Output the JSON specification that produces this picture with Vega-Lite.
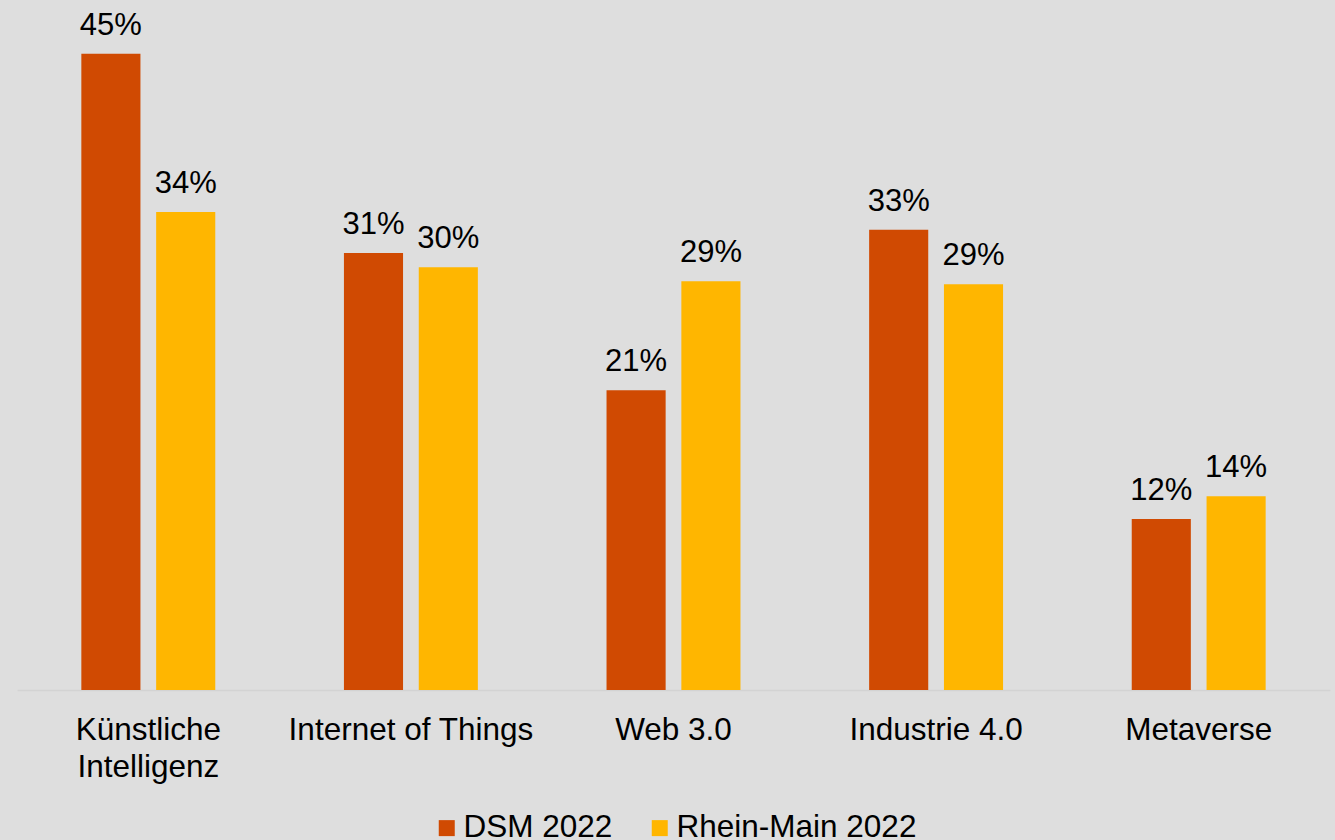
{
  "$schema": "https://vega.github.io/schema/vega-lite/v6.json",
  "autosize": "none",
  "width": 1313,
  "height": 690,
  "padding": {"left": 17, "top": 0, "right": 5, "bottom": 150},
  "background": "#dedede",
  "config": {
    "view": {"stroke": null},
    "font": "Liberation Sans",
    "text": {"font": "Liberation Sans"}
  },
  "data": {
    "values": [
      {"kategorie": "Künstliche Intelligenz", "reihe": "DSM 2022", "wert": 0.45},
      {"kategorie": "Künstliche Intelligenz", "reihe": "Rhein-Main 2022", "wert": 0.338},
      {"kategorie": "Internet of Things", "reihe": "DSM 2022", "wert": 0.309},
      {"kategorie": "Internet of Things", "reihe": "Rhein-Main 2022", "wert": 0.299},
      {"kategorie": "Web 3.0", "reihe": "DSM 2022", "wert": 0.212},
      {"kategorie": "Web 3.0", "reihe": "Rhein-Main 2022", "wert": 0.289},
      {"kategorie": "Industrie 4.0", "reihe": "DSM 2022", "wert": 0.3255},
      {"kategorie": "Industrie 4.0", "reihe": "Rhein-Main 2022", "wert": 0.287},
      {"kategorie": "Metaverse", "reihe": "DSM 2022", "wert": 0.121},
      {"kategorie": "Metaverse", "reihe": "Rhein-Main 2022", "wert": 0.137}
    ]
  },
  "encoding": {
    "x": {
      "field": "kategorie",
      "type": "nominal",
      "sort": null,
      "scale": {"paddingInner": 0.49, "paddingOuter": 0.245},
      "axis": {
        "title": null,
        "labelAngle": 0,
        "ticks": false,
        "domainColor": "#d3d3d3",
        "domainWidth": 1.5,
        "labelFontSize": 31.5,
        "labelColor": "#000000",
        "labelPadding": 24,
        "labelLineHeight": 37,
        "labelLimit": 400,
        "labelExpr": "datum.value == 'Künstliche Intelligenz' ? ['Künstliche', 'Intelligenz'] : datum.value"
      }
    },
    "xOffset": {
      "field": "reihe",
      "type": "nominal",
      "scale": {"paddingInner": 0.21, "paddingOuter": 0}
    },
    "y": {
      "field": "wert",
      "type": "quantitative",
      "scale": {"domain": [0, 0.488], "nice": false},
      "axis": null
    }
  },
  "layer": [
    {
      "mark": {"type": "bar"},
      "encoding": {
        "color": {
          "field": "reihe",
          "type": "nominal",
          "scale": {"domain": ["DSM 2022", "Rhein-Main 2022"], "range": ["#d04a02", "#ffb600"]},
          "legend": {
            "title": null,
            "orient": "none",
            "direction": "horizontal",
            "legendX": 414,
            "legendY": 812,
            "symbolType": "square",
            "symbolSize": 256,
            "symbolStrokeWidth": 0,
            "labelFontSize": 31.5,
            "labelColor": "#000000",
            "labelOffset": 1,
            "columnPadding": 31,
            "labelLimit": 400
          }
        }
      }
    },
    {
      "mark": {"type": "text", "baseline": "alphabetic", "dy": -19, "fontSize": 31, "color": "#000000"},
      "encoding": {
        "text": {"field": "wert", "type": "quantitative", "format": ".0%"}
      }
    }
  ]
}
